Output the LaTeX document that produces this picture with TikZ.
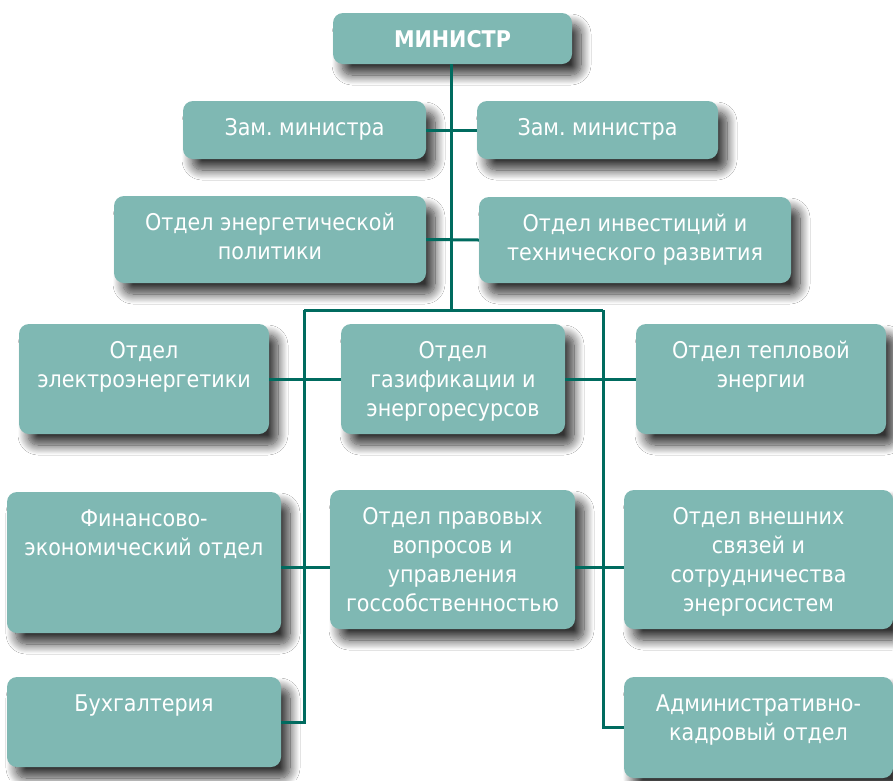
\documentclass[tikz,border=0pt]{standalone}
\usepackage{fontspec}
\setmainfont{DejaVu Sans Condensed}
\usetikzlibrary{shadows.blur}
\definecolor{boxfill}{HTML}{7FB8B3}
\definecolor{linec}{HTML}{006B5F}
\frenchspacing
\newcommand\bt[3]{\parbox[c][#2pt][t]{#1pt}{\centering\rule{0pt}{34pt}#3\par}}
\tikzset{
  box/.style={fill=boxfill, draw=none, rounded corners=10pt, inner sep=0pt, text=white,
    font=\fontsize{23}{29}\selectfont,
    blur shadow={shadow xshift=9pt, shadow yshift=-11pt, shadow blur radius=10pt, shadow blur steps=16, shadow opacity=80}},
  conn/.style={draw=linec, line width=3pt}
}
\begin{document}
\begin{tikzpicture}[x=1pt,y=-1pt]
\fill[white] (0,0) rectangle (893,780);
\useasboundingbox (0,0) rectangle (893,780);
\node[box] (min) at (452.5,38.5) {\bt{239}{51}{\bfseries МИНИСТР}};
\node[box] (zl) at (304.5,130) {\bt{243}{58}{Зам. министра}};
\node[box] (zr) at (597.5,130) {\bt{241}{58}{Зам. министра}};
\node[box] (en) at (270,239.5) {\bt{312}{87}{Отдел энергетической\\политики}};
\node[box] (inv) at (635,240) {\bt{312}{86}{Отдел инвестиций и\\технического развития}};
\node[box] (el) at (144,379) {\bt{250}{110}{Отдел\\электроэнергетики}};
\node[box] (gaz) at (453,379) {\bt{224}{110}{Отдел\\газификации и\\энергоресурсов}};
\node[box] (tep) at (761,379) {\bt{250}{110}{Отдел тепловой\\энергии}};
\node[box] (fin) at (144,562.5) {\bt{274}{141}{Финансово-\\экономический отдел}};
\node[box] (prav) at (452.5,559.5) {\bt{245}{139}{Отдел правовых\\вопросов и\\управления\\госсобственностью}};
\node[box] (ext) at (758.5,559.5) {\bt{269}{139}{Отдел внешних\\связей и\\сотрудничества\\энергосистем}};
\node[box] (buh) at (144,722) {\bt{274}{90}{Бухгалтерия}};
\node[box] (adm) at (758.5,727.5) {\bt{269}{101}{Административно-\\кадровый отдел}};
\coordinate (T) at (451,310);
\coordinate (L) at (304,310);
\coordinate (R) at (603,310);
\coordinate (r4) at (0,567);
\draw[conn] (min.south -| T) -- (T);
\draw[conn] (zl.east) -- (zr.west);
\draw[conn] (en.east) -- (inv.west);
\draw[conn] (L) -- (R);
\draw[conn] (L) -- (L |- buh.east) -- (buh.east);
\draw[conn] (R) -- (R |- adm.west) -- (adm.west);
\draw[conn] (el.east) -- (gaz.west);
\draw[conn] (gaz.east) -- (tep.west);
\draw[conn] (fin.east |- r4) -- (prav.west |- r4);
\draw[conn] (prav.east |- r4) -- (ext.west |- r4);
\end{tikzpicture}
\end{document}
